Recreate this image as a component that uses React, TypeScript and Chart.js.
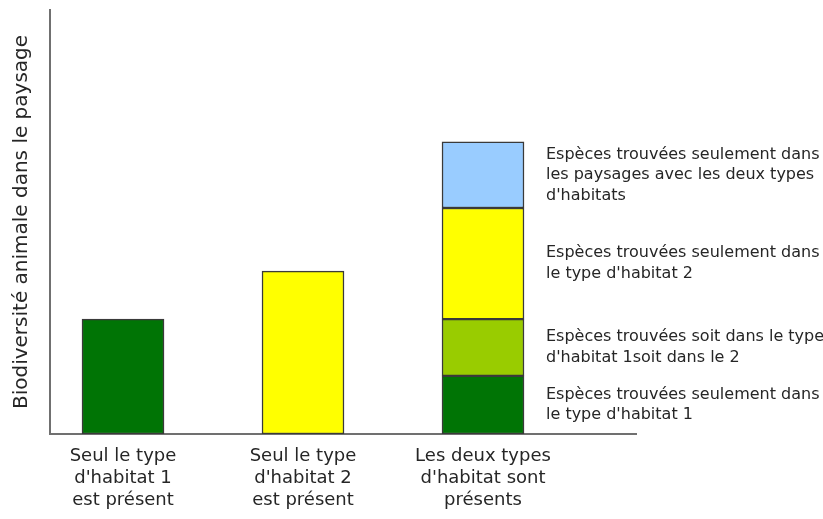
import React, { useEffect, useRef } from "react";
import { Chart, registerables } from "chart.js";

Chart.register(...registerables);

const categories: string[][] = [
  ["Seul le type", "d'habitat 1", "est présent"],
  ["Seul le type", "d'habitat 2", "est présent"],
  ["Les deux types", "d'habitat sont", "présents"],
];

// values per category (null = segment absent)
const habitat1Only: (number | null)[] = [27.1, null, 13.7];
const eitherHabitat: (number | null)[] = [null, null, 13.4];
const habitat2Only: (number | null)[] = [null, 38.4, 26.2];
const bothHabitatsOnly: (number | null)[] = [null, null, 15.6];

const segmentLabels: string[][] = [
  ["Espèces trouvées seulement dans", "le type d'habitat 1"],
  ["Espèces trouvées soit dans le type", "d'habitat 1soit dans le 2"],
  ["Espèces trouvées seulement dans", "le type d'habitat 2"],
  ["Espèces trouvées seulement dans", "les paysages avec les deux types", "d'habitats"],
];

const yTitle = "Biodiversité animale dans le paysage";
const yMax = 100;

const FONT = "'DejaVu Sans', sans-serif";
const TEXT = "#262626";

const toPoints = (arr: (number | null)[]) =>
  arr.map((v, i) => (v == null ? null : { x: i, y: v })).filter((p) => p !== null) as { x: number; y: number }[];

const annotatePlugin = {
  id: "segmentAnnotations",
  afterDatasetsDraw(chart: any) {
    const ctx = chart.ctx;
    const lastIdx = categories.length - 1;
    ctx.save();
    ctx.font = `16px ${FONT}`;
    ctx.fillStyle = TEXT;
    ctx.textBaseline = "middle";
    ctx.textAlign = "left";
    chart.data.datasets.forEach((ds: any, di: number) => {
      const meta = chart.getDatasetMeta(di);
      const idx = ds.data.findIndex((p: any) => p.x === lastIdx);
      if (idx < 0) return;
      const el: any = meta.data[idx];
      const props = el.getProps(["x", "y", "base", "width"], true);
      const cy = (props.y + props.base) / 2;
      const lines = segmentLabels[di];
      const lh = 20.5;
      const startY = cy - ((lines.length - 1) * lh) / 2;
      const tx = props.x + props.width / 2 + 22;
      lines.forEach((ln, k) => ctx.fillText(ln, tx, startY + k * lh));
    });
    ctx.restore();
  },
};

export default function App() {
  const ref = useRef<HTMLCanvasElement>(null);
  useEffect(() => {
    if (!ref.current) return;
    const border = "#3a3a3a";
    const chart = new Chart(ref.current, {
      type: "bar",
      data: {
        datasets: [
          { label: "h1", data: toPoints(habitat1Only), backgroundColor: "#007405" },
          { label: "either", data: toPoints(eitherHabitat), backgroundColor: "#99cc00" },
          { label: "h2", data: toPoints(habitat2Only), backgroundColor: "#ffff00" },
          { label: "both", data: toPoints(bothHabitatsOnly), backgroundColor: "#99ccff" },
        ].map((d) => ({
          ...d,
          borderColor: border,
          borderWidth: 1.5,
          borderSkipped: false,
          barThickness: 82,
        })) as any,
      },
      options: {
        animation: false,
        responsive: false,
        maintainAspectRatio: false,
        layout: { padding: { top: 10, right: 187, left: 0, bottom: 0 } },
        plugins: { legend: { display: false }, tooltip: { enabled: false } },
        scales: {
          x: {
            type: "linear",
            stacked: true,
            offset: false,
            bounds: "data",
            min: -0.4056,
            max: 2.85,
            grid: { display: false, drawTicks: false, offset: false },
            border: { display: true, color: "#707070", width: 2 },
            afterBuildTicks: (s: any) => {
              s.ticks = categories.map((_, i) => ({ value: i }));
            },
            afterFit: (s: any) => {
              s.height = 85;
            },
            ticks: {
              autoSkip: false,
              includeBounds: false,
              maxRotation: 0,
              padding: 12,
              color: TEXT,
              font: { family: FONT, size: 18, lineHeight: 1.2 },
              callback: (v: any) => categories[Math.round(Number(v))] ?? "",
            },
          },
          y: {
            stacked: true,
            min: 0,
            max: yMax,
            grid: { display: false, drawTicks: false },
            border: { display: true, color: "#707070", width: 2 },
            ticks: { display: false },
            afterFit: (s: any) => {
              s.width = 50;
            },
            title: {
              display: true,
              text: yTitle,
              color: TEXT,
              font: { family: FONT, size: 20, lineHeight: 1.2 },
              padding: { top: 10, bottom: 0 },
            },
          },
        },
      },
      plugins: [annotatePlugin],
    });
    return () => chart.destroy();
  }, []);
  return (
    <div style={{ position: "fixed", left: 0, top: 0, width: 823, height: 519, background: "#fff" }}>
      <canvas ref={ref} width={823} height={519} style={{ width: 823, height: 519, display: "block" }} />
    </div>
  );
}
